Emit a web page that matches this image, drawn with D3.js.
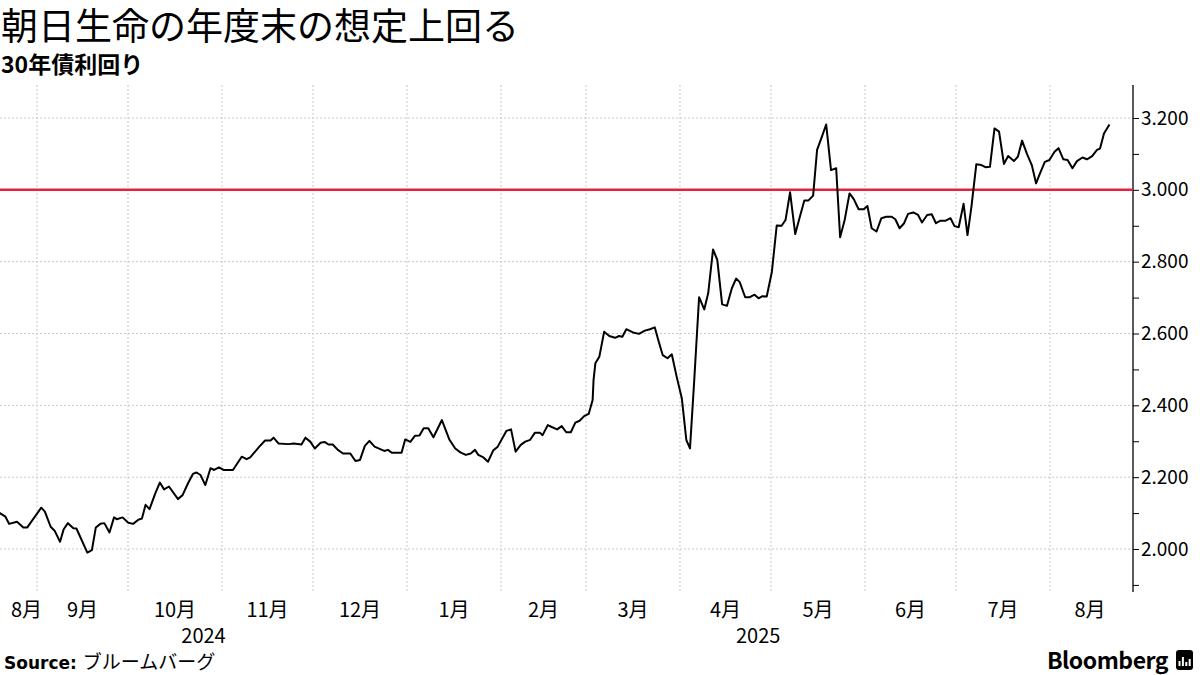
<!DOCTYPE html>
<html><head><meta charset="utf-8">
<script src="https://cdn.jsdelivr.net/npm/d3@7"></script>
<style>body{margin:0;background:#fff}svg{display:block}text{font-family:"Noto Sans CJK JP","Liberation Sans",sans-serif}</style>
</head><body><svg id="c" width="1200" height="675"></svg>
<script>
const title = "朝日生命の年度末の想定上回る";
const subtitle = "30年債利回り";
const startDate = "2024-08-19";
const dayOffsets = [0,2.6,3.8,6.4,8.5,9.8,14.4,15.6,17.5,18.8,20.6,21.8,23.2,25,26,29.6,31.1,32.4,33.9,35.2,36.9,38.4,39.3,41.2,43.1,44.7,46.3,47.6,48.8,50.1,52,53.5,54.9,56.5,59.5,61,62.8,64.4,65.6,66.9,68.5,70.2,71.4,73,74.5,77.6,80.5,82.1,83.3,86.3,88.2,90,91,92.6,95.8,97.7,100.2,101.5,103.1,104.6,106.5,107.8,109.1,110.5,112.2,113.9,116.3,118,119.5,121.1,122.6,124.3,125.6,127.5,128.7,130,133.2,134.4,136.1,137.6,139.1,140.5,142,143.7,146.5,149,150.9,152.6,154.4,156,157.4,158.5,160.2,161.7,163.4,164.9,167.8,169.3,170.8,172.5,174,175.6,177.2,178.8,179.7,181.4,182.9,184.5,186,187.5,189,190.5,191.9,193.4,194.9,196.2,196.5,197.1,198.4,200,201.7,203.6,204.9,206,207.3,209.5,211.5,213.4,215.1,216.7,218,219.3,220.9,222.3,223.9,225.6,227.1,228.3,229.7,231.3,233,234.3,235.9,237.3,238.9,240.5,242.1,243.5,244.7,246.5,248,249.6,250.9,252.2,253.6,255.3,256.9,258.5,259.8,261.3,263,264.3,266,267.3,268.9,270.2,271.8,273.2,274.8,276.5,277.8,279.3,280.9,282.3,283.9,285.6,286.8,288.2,289.8,291.4,293,294.8,296,297.4,298.9,300.2,301.9,303.5,304.8,306.5,308,309.4,310.9,312.6,314.2,315.5,316.9,318.5,319.8,321.1,322.7,324.4,325.7,327.2,328.7,330.2,331.8,333.2,335.1,336.4,337.8,339.4,341,342.4,343.7,345.3,346.8,348.5,349.8,351.4,352.8,354.4,355.9,357.7,359.2,360.9,362.5,363.5,364.8,366.6];
const yields = [2.104,2.090,2.070,2.076,2.060,2.060,2.115,2.104,2.062,2.051,2.020,2.055,2.072,2.058,2.057,1.990,1.997,2.060,2.070,2.072,2.046,2.088,2.083,2.088,2.073,2.070,2.081,2.085,2.123,2.111,2.155,2.185,2.166,2.174,2.139,2.150,2.183,2.209,2.213,2.206,2.178,2.225,2.220,2.227,2.220,2.220,2.257,2.250,2.255,2.285,2.302,2.302,2.310,2.294,2.292,2.294,2.291,2.310,2.299,2.280,2.296,2.298,2.291,2.291,2.276,2.266,2.266,2.245,2.248,2.287,2.301,2.285,2.280,2.273,2.276,2.268,2.268,2.305,2.298,2.315,2.316,2.336,2.336,2.311,2.359,2.304,2.280,2.269,2.262,2.266,2.276,2.262,2.255,2.243,2.274,2.285,2.329,2.333,2.271,2.290,2.299,2.304,2.324,2.324,2.317,2.345,2.339,2.333,2.342,2.325,2.325,2.352,2.357,2.370,2.376,2.415,2.470,2.517,2.535,2.605,2.593,2.588,2.593,2.591,2.612,2.603,2.599,2.608,2.612,2.617,2.577,2.540,2.531,2.542,2.480,2.420,2.303,2.280,2.470,2.701,2.667,2.712,2.834,2.805,2.681,2.677,2.726,2.753,2.743,2.701,2.701,2.708,2.698,2.704,2.703,2.772,2.901,2.900,2.916,2.993,2.877,2.918,2.970,2.970,2.984,3.111,3.148,3.182,3.055,3.060,2.868,2.916,2.990,2.974,2.946,2.946,2.955,2.893,2.884,2.921,2.925,2.925,2.918,2.893,2.907,2.933,2.937,2.930,2.909,2.930,2.932,2.907,2.914,2.914,2.921,2.899,2.896,2.961,2.874,2.953,3.071,3.069,3.063,3.064,3.171,3.162,3.072,3.094,3.080,3.092,3.137,3.100,3.069,3.018,3.046,3.078,3.083,3.106,3.116,3.085,3.083,3.060,3.080,3.090,3.085,3.094,3.111,3.115,3.157,3.182];
const target = 3.0;
const yTicks = [2.0,2.2,2.4,2.6,2.8,3.0,3.2];
const monthStarts = ["2024-09-01","2024-10-01","2024-11-01","2024-12-01","2025-01-01","2025-02-01","2025-03-01","2025-04-01","2025-05-01","2025-06-01","2025-07-01","2025-08-01"];
const monthLabels = ["8月","9月","10月","11月","12月","1月","2月","3月","4月","5月","6月","7月","8月"];
const yearLabels = ["2024","2025"];
const yearBreaks = ["2025-01-01"];
const source = "ブルームバーグ";

const svg = d3.select("#c");
const parse = d3.timeParse("%Y-%m-%d");
const t0 = parse(startDate);
const data = dayOffsets.map((d,i)=>({date:new Date(+t0 + d*86400000), v:yields[i]}));
const axisX = 1133, plotTop = 85, plotBottom = 592;
const x = d3.scaleTime().domain([parse("2024-09-01"),parse("2025-08-01")]).range([37,1050]);
const y = d3.scaleLinear().domain([2.0,3.2]).range([549,118]);

const ms = monthStarts.map(parse);
svg.append("g").selectAll("line").data(ms).join("line")
  .attr("x1",d=>x(d)).attr("x2",d=>x(d)).attr("y1",plotTop).attr("y2",plotBottom)
  .attr("stroke","#c8c8c8").attr("stroke-dasharray","2,2");
svg.append("g").selectAll("line").data(yTicks).join("line")
  .attr("x1",0).attr("x2",axisX).attr("y1",d=>y(d)).attr("y2",d=>y(d))
  .attr("stroke","#c8c8c8").attr("stroke-dasharray","2,2");

const ya = svg.append("g").attr("transform",`translate(${axisX},0)`)
  .call(d3.axisRight(y).tickValues(d3.range(19,33).map(v=>v/10)).tickSize(6).tickFormat(d=>yTicks.some(t=>Math.abs(t-d)<1e-6)?d3.format(".3f")(d):""));
ya.select(".domain").remove();
ya.selectAll("text").attr("font-size",19).attr("fill","#000").attr("dx",-1).attr("font-family","'Noto Sans CJK JP'");
ya.selectAll("line").attr("stroke","#000");
svg.append("line").attr("x1",axisX).attr("x2",axisX).attr("y1",plotTop).attr("y2",plotBottom).attr("stroke","#000").attr("stroke-width",1.3);

svg.append("line").attr("x1",0).attr("x2",axisX).attr("y1",y(target)).attr("y2",y(target))
  .attr("stroke","#e5223d").attr("stroke-width",2.5);

svg.append("path").datum(data).attr("fill","none").attr("stroke","#000").attr("stroke-width",2)
  .attr("stroke-linejoin","round")
  .attr("d",d3.line().x(d=>x(d.date)).y(d=>y(d.v)));

const bounds = [0, ...ms.map(d=>x(d)), 1130];
svg.append("g").selectAll("text").data(monthLabels).join("text")
  .attr("x",(d,i)=>(bounds[i]+bounds[i+1])/2 + (i===0?8:0)).attr("y",617)
  .attr("text-anchor","middle").attr("font-size",20).text(d=>d);
const yb = [0, x(parse(yearBreaks[0])), x(data[data.length-1].date)];
svg.append("g").selectAll("text").data(yearLabels).join("text")
  .attr("x",(d,i)=>(yb[i]+yb[i+1])/2).attr("y",643)
  .attr("text-anchor","middle").attr("font-size",20).text(d=>d);

svg.append("text").attr("x",1).attr("y",40).attr("font-size",37).attr("font-weight",400).text(title);
svg.append("text").attr("x",1).attr("y",73).attr("font-size",23).attr("font-weight",700).text(subtitle);
const s = svg.append("text").attr("x",4).attr("y",669).attr("font-size",19);
s.append("tspan").attr("font-weight",700).attr("font-family","'DejaVu Sans'").attr("font-size",17).text("Source: ");
s.append("tspan").text(source);
svg.append("text").attr("x",1168).attr("y",669).attr("text-anchor","end").attr("font-size",23).attr("font-weight",700)
  .attr("font-family","'Liberation Sans'").attr("letter-spacing",-0.5).text("Bloomberg");
svg.append("rect").attr("x",1176).attr("y",650).attr("width",17).attr("height",20).attr("rx",3).attr("fill","#000");
svg.append("g").selectAll("rect").data([5,9,4,7]).join("rect")
  .attr("x",(d,i)=>1178.5+i*3.4).attr("y",d=>666-d).attr("width",2).attr("height",d=>d).attr("fill","#fff");
</script></body></html>
